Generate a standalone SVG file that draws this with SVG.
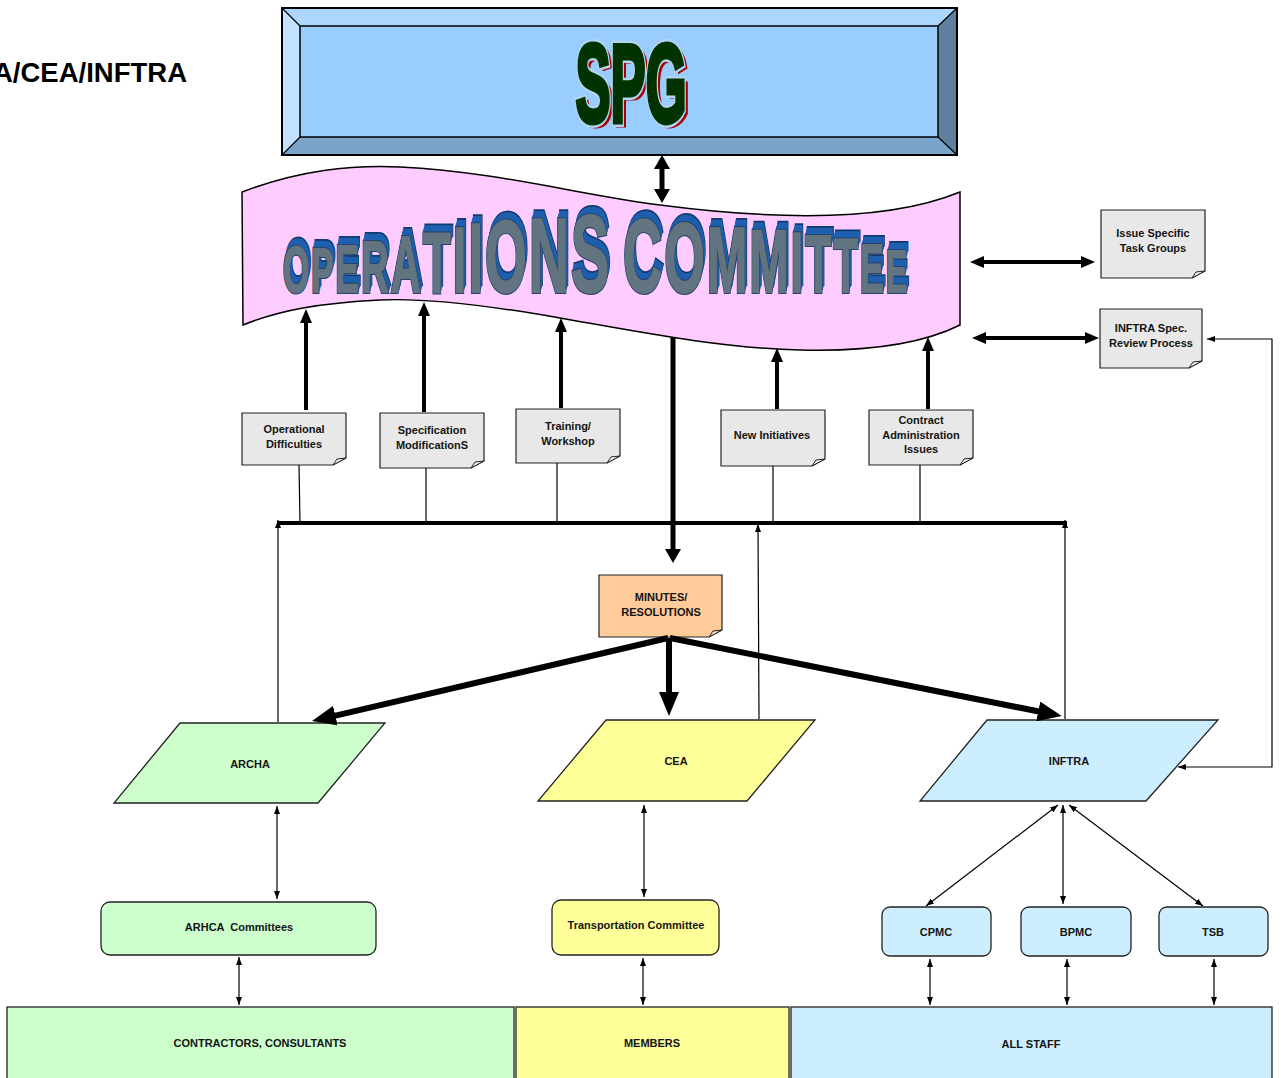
<svg xmlns="http://www.w3.org/2000/svg" xmlns:xlink="http://www.w3.org/1999/xlink" width="1282" height="1078" viewBox="0 0 1282 1078">
<style>
.t{font-family:"Liberation Sans",Arial,sans-serif;font-weight:bold;font-size:11px;text-anchor:middle;fill:#141414}
.note{fill:#e8e8e8;stroke:#222;stroke-width:1.2}
.fold{fill:#f6f6f6;stroke:#222;stroke-width:1}
.thick{stroke:#000;fill:none}
.thin{stroke:#000;stroke-width:1.2;fill:none}
.grn{fill:#ccffcc}.yel{fill:#ffff99}.blu{fill:#cceeff}
.box{stroke:#222;stroke-width:1.3}
.ext{fill:#1e5fae;stroke:#1e5fae;stroke-width:2.5}
</style>
<defs>
<marker id="hv" viewBox="0 0 14 16" refX="7" refY="8" markerWidth="14" markerHeight="16" markerUnits="userSpaceOnUse" orient="auto-start-reverse"><path d="M0,0 L14,8 L0,16 Z" fill="#000"/></marker>
<marker id="h4" viewBox="0 0 14 12" refX="8" refY="6" markerWidth="14" markerHeight="12" markerUnits="userSpaceOnUse" orient="auto-start-reverse"><path d="M0,0 L14,6 L0,12 Z" fill="#000"/></marker>
<marker id="hm" viewBox="0 0 24 20" refX="12" refY="10" markerWidth="24" markerHeight="20" markerUnits="userSpaceOnUse" orient="auto-start-reverse"><path d="M0,0 L24,10 L0,20 Z" fill="#000"/></marker>
<marker id="sm" viewBox="0 0 8 6" refX="8" refY="3" markerWidth="8" markerHeight="6" markerUnits="userSpaceOnUse" orient="auto-start-reverse"><path d="M0,0 L8,3 L0,6 Z" fill="#000"/></marker>
<text id="opsTxt" font-family="Liberation Sans, Arial, sans-serif" font-weight="bold" letter-spacing="4"><tspan font-size="64">O</tspan><tspan font-size="63">P</tspan><tspan font-size="67">E</tspan><tspan font-size="72">R</tspan><tspan font-size="79">A</tspan><tspan font-size="86">T</tspan><tspan font-size="93">I</tspan><tspan font-size="99">I</tspan><tspan font-size="102">O</tspan><tspan font-size="105">N</tspan><tspan font-size="109">S</tspan><tspan font-size="103" dx="22">C</tspan><tspan font-size="99">O</tspan><tspan font-size="92">M</tspan><tspan font-size="89">M</tspan><tspan font-size="85">I</tspan><tspan font-size="81">T</tspan><tspan font-size="76">T</tspan><tspan font-size="68">E</tspan><tspan font-size="60">E</tspan></text>
<text id="spgTxt" font-family="Liberation Sans, Arial, sans-serif" font-weight="bold" font-size="112" text-anchor="middle">SPG</text>
</defs>

<text x="187" y="82" font-family="Liberation Sans, Arial, sans-serif" font-weight="bold" font-size="27.5" text-anchor="end" fill="#000">A/CEA/INFTRA</text>

<g id="spg">
<polygon points="282,8 957,8 938,26 300,26" fill="#add6ff"/>
<polygon points="282,8 300,26 300,137 282,155" fill="#c2e0ff"/>
<polygon points="282,155 300,137 938,137 957,155" fill="#7aa4cc"/>
<polygon points="957,8 957,155 938,137 938,26" fill="#5f7f9f"/>
<rect x="300" y="26" width="638" height="111" fill="#99ccff" stroke="#000" stroke-width="1.5"/>
<rect x="282" y="8" width="675" height="147" fill="none" stroke="#000" stroke-width="2"/>
<path d="M282,8 L300,26 M957,8 L938,26 M282,155 L300,137 M957,155 L938,137" stroke="#000" stroke-width="1.2"/>
<g transform="translate(631,122) scale(0.47,1)">
<use xlink:href="#spgTxt" x="7" y="3" fill="#aa0000" stroke="#aa0000" stroke-width="5"/>
<use xlink:href="#spgTxt" fill="#b0d4f4" stroke="#b0d4f4" stroke-width="10"/>
<use xlink:href="#spgTxt" fill="#003300" stroke="#003300" stroke-width="5"/>
</g>
</g>

<g id="ops">
<path d="M242,192 C300,170 350,165 400,167 C500,172 580,195 660,205 C760,218 880,225 960,192 L960,325 C930,340 880,352 800,350 C720,348 640,332 560,318 C480,304 420,298 380,300 C320,303 280,310 243,325 Z" fill="#ffccff" stroke="#000" stroke-width="1.5"/>
<g transform="translate(283,292) scale(0.527,1)">
<use xlink:href="#opsTxt" x="3.8" y="-8" fill="#103a70" stroke="#103a70" stroke-width="4"/>
<use xlink:href="#opsTxt" x="3.3" y="-7" class="ext"/>
<use xlink:href="#opsTxt" x="2.8" y="-6" class="ext"/>
<use xlink:href="#opsTxt" x="2.2" y="-5" class="ext"/>
<use xlink:href="#opsTxt" x="1.7" y="-4" class="ext"/>
<use xlink:href="#opsTxt" x="1.2" y="-3" class="ext"/>
<use xlink:href="#opsTxt" x="0.7" y="-2" class="ext"/>
<use xlink:href="#opsTxt" x="0.2" y="-1" class="ext"/>
<use xlink:href="#opsTxt" fill="#24446c" stroke="#24446c" stroke-width="4"/>
<use xlink:href="#opsTxt" fill="#62747f" stroke="#62747f" stroke-width="1.8"/>
</g>
</g>

<g id="issue-task">
<path class="note" d="M1101,210 H1205 V271 L1192,278 H1101 Z"/>
<path class="fold" d="M1205,271 L1196,272 L1192,278 Z"/>
<text class="t" x="1153" y="237">Issue Specific</text>
<text class="t" x="1153" y="252">Task Groups</text>
</g>
<g id="inftra-spec">
<path class="note" d="M1100,309 H1202 V361 L1189,368 H1100 Z"/>
<path class="fold" d="M1202,361 L1193,362 L1189,368 Z"/>
<text class="t" x="1151" y="332">INFTRA Spec.</text>
<text class="t" x="1151" y="347">Review Process</text>
</g>
<g id="op-diff">
<path class="note" d="M242,413 H346 V458 L333,465 H242 Z"/>
<path class="fold" d="M346,458 L337,459 L333,465 Z"/>
<text class="t" x="294" y="433">Operational</text>
<text class="t" x="294" y="448">Difficulties</text>
</g>
<g id="spec-mod">
<path class="note" d="M380,413 H484 V461 L471,468 H380 Z"/>
<path class="fold" d="M484,461 L475,462 L471,468 Z"/>
<text class="t" x="432" y="434">Specification</text>
<text class="t" x="432" y="449">ModificationS</text>
</g>
<g id="training">
<path class="note" d="M516,409 H620 V456 L607,463 H516 Z"/>
<path class="fold" d="M620,456 L611,457 L607,463 Z"/>
<text class="t" x="568" y="430">Training/</text>
<text class="t" x="568" y="445">Workshop</text>
</g>
<g id="new-init">
<path class="note" d="M721,410 H825 V459 L812,466 H721 Z"/>
<path class="fold" d="M825,459 L816,460 L812,466 Z"/>
<text class="t" x="772" y="439">New Initiatives</text>
</g>
<g id="contract">
<path class="note" d="M869,410 H973 V458 L960,465 H869 Z"/>
<path class="fold" d="M973,458 L964,459 L960,465 Z"/>
<text class="t" x="921" y="424">Contract</text>
<text class="t" x="921" y="439">Administration</text>
<text class="t" x="921" y="453">Issues</text>
</g>
<g id="minutes">
<path class="note" style="fill:#ffcc99" d="M599,575 H722 V630 L709,637 H599 Z"/>
<path class="fold" style="fill:#ffe4c8" d="M722,630 L713,631 L709,637 Z"/>
<text class="t" x="661" y="601">MINUTES/</text>
<text class="t" x="661" y="616">RESOLUTIONS</text>
</g>

<g id="archa">
<polygon class="grn box" points="180,723 385,723 318,803 114,803"/>
<text class="t" x="250" y="768">ARCHA</text>
</g>
<g id="cea">
<polygon class="yel box" points="606,720 815,720 747,801 538,801"/>
<text class="t" x="676" y="765">CEA</text>
</g>
<g id="inftra">
<polygon class="blu box" points="987,720 1218,720 1146,801 920,801"/>
<text class="t" x="1069" y="765">INFTRA</text>
</g>

<g id="arhca-comm">
<rect class="grn box" x="101" y="902" width="275" height="53" rx="9"/>
<text class="t" x="239" y="931" xml:space="preserve">ARHCA  Committees</text>
</g>
<g id="transp-comm">
<rect class="yel box" x="552" y="900" width="167" height="55" rx="9"/>
<text class="t" x="636" y="929">Transportation Committee</text>
</g>
<g id="cpmc">
<rect class="blu box" x="882" y="907" width="109" height="49" rx="8"/>
<text class="t" x="936" y="936">CPMC</text>
</g>
<g id="bpmc">
<rect class="blu box" x="1021" y="907" width="110" height="49" rx="8"/>
<text class="t" x="1076" y="936">BPMC</text>
</g>
<g id="tsb">
<rect class="blu box" x="1159" y="907" width="109" height="49" rx="8"/>
<text class="t" x="1213" y="936">TSB</text>
</g>

<g id="contractors">
<rect class="grn box" x="7" y="1007" width="507" height="80"/>
<text class="t" x="260" y="1047">CONTRACTORS, CONSULTANTS</text>
</g>
<g id="members">
<rect class="yel box" x="516" y="1007" width="273" height="80"/>
<text class="t" x="652" y="1047">MEMBERS</text>
</g>
<g id="all-staff">
<rect class="blu box" x="791" y="1007" width="481" height="80"/>
<text class="t" x="1031" y="1048">ALL STAFF</text>
</g>

<g id="connectors">
<line class="thick" stroke-width="5" x1="662" y1="162" x2="662" y2="196" marker-start="url(#hv)" marker-end="url(#hv)"/>
<line class="thick" stroke-width="4" x1="976" y1="262" x2="1089" y2="262" marker-start="url(#h4)" marker-end="url(#h4)"/>
<line class="thick" stroke-width="4" x1="978" y1="338" x2="1093" y2="338" marker-start="url(#h4)" marker-end="url(#h4)"/>
<line class="thick" stroke-width="4" x1="306" y1="410" x2="306" y2="315" marker-end="url(#h4)"/>
<line class="thick" stroke-width="4" x1="424" y1="412" x2="424" y2="308" marker-end="url(#h4)"/>
<line class="thick" stroke-width="4" x1="561" y1="408" x2="561" y2="324" marker-end="url(#h4)"/>
<line class="thick" stroke-width="4" x1="777" y1="409" x2="777" y2="354" marker-end="url(#h4)"/>
<line class="thick" stroke-width="4" x1="928" y1="409" x2="928" y2="343" marker-end="url(#h4)"/>
<line class="thick" stroke-width="5" x1="673" y1="337" x2="673" y2="556" marker-end="url(#hv)"/>
<line class="thick" stroke-width="4" x1="277" y1="523" x2="1067" y2="523"/>
<line class="thin" x1="299" y1="465" x2="300" y2="523"/>
<line class="thin" x1="426" y1="468" x2="426" y2="523"/>
<line class="thin" x1="557" y1="463" x2="557" y2="523"/>
<line class="thin" x1="773" y1="466" x2="773" y2="523"/>
<line class="thin" x1="920" y1="465" x2="920" y2="523"/>
<line class="thin" x1="278" y1="722" x2="278" y2="520" marker-end="url(#sm)"/>
<line class="thin" x1="759" y1="719" x2="758" y2="524" marker-end="url(#sm)"/>
<line class="thin" x1="1065" y1="719" x2="1065" y2="520" marker-end="url(#sm)"/>
<line class="thick" stroke-width="6" x1="668" y1="638" x2="323.7" y2="718.3" marker-end="url(#hm)"/>
<line class="thick" stroke-width="6" x1="669" y1="638" x2="669" y2="704" marker-end="url(#hm)"/>
<line class="thick" stroke-width="6" x1="670" y1="638" x2="1050" y2="713.7" marker-end="url(#hm)"/>
<path class="thin" d="M1207,339 H1272 V767 H1178" marker-start="url(#sm)" marker-end="url(#sm)"/>
<line class="thin" x1="277" y1="806" x2="277" y2="899" marker-start="url(#sm)" marker-end="url(#sm)"/>
<line class="thin" x1="644" y1="805" x2="644" y2="897" marker-start="url(#sm)" marker-end="url(#sm)"/>
<line class="thin" x1="1058" y1="805" x2="926" y2="906" marker-start="url(#sm)" marker-end="url(#sm)"/>
<line class="thin" x1="1063" y1="805" x2="1063" y2="904" marker-start="url(#sm)" marker-end="url(#sm)"/>
<line class="thin" x1="1069" y1="805" x2="1203" y2="906" marker-start="url(#sm)" marker-end="url(#sm)"/>
<line class="thin" x1="239" y1="957" x2="239" y2="1005" marker-start="url(#sm)" marker-end="url(#sm)"/>
<line class="thin" x1="643" y1="958" x2="643" y2="1005" marker-start="url(#sm)" marker-end="url(#sm)"/>
<line class="thin" x1="930" y1="959" x2="930" y2="1005" marker-start="url(#sm)" marker-end="url(#sm)"/>
<line class="thin" x1="1067" y1="959" x2="1067" y2="1005" marker-start="url(#sm)" marker-end="url(#sm)"/>
<line class="thin" x1="1214" y1="959" x2="1214" y2="1005" marker-start="url(#sm)" marker-end="url(#sm)"/>
</g>
</svg>
